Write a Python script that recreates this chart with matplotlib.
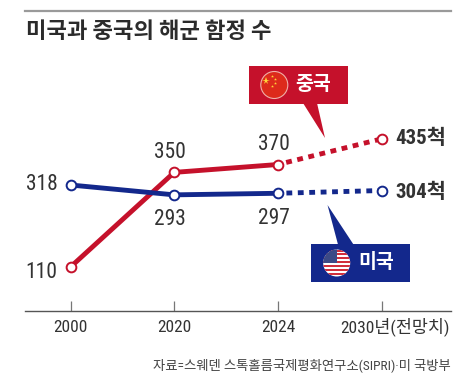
import matplotlib
matplotlib.use('Agg')
import matplotlib.pyplot as plt
from matplotlib.patches import Circle, Polygon, Rectangle
from matplotlib.transforms import ScaledTranslation

NARROW = ['Roboto Condensed', 'Noto Sans CJK KR', 'DejaVu Sans']
plt.rcParams['font.family'] = NARROW

# data
years = ['2000', '2020', '2024', '2030년(전망치)']
china = [110, 350, 370, 435]
usa = [318, 293, 297, 304]
china_labels = ['110', '350', '370', '435척']
usa_labels = ['318', '293', '297', '304척']

RED = '#c5112b'
BLUE = '#13288c'
TXT = '#333333'
W, H = 465, 391

fig = plt.figure(figsize=(W / 100, H / 100), dpi=100)

# data axes, lined up with the picture in pixels
left, right, bottom, top = 25, 451, 311, 120
ax = fig.add_axes([left / W, 1 - bottom / H, (right - left) / W, (bottom - top) / H])
ax.patch.set_alpha(0)
step = 103.7
ax.set_xlim(-(70.5 - left) / step, 3 + (right - 381.6) / step)
ppu = 82 / 208
ax.set_ylim(110 - (bottom - 267) / ppu, 110 + (267 - top) / ppu)
for s in ['top', 'left', 'right']:
    ax.spines[s].set_visible(False)
ax.spines['bottom'].set_color('#555555')
ax.spines['bottom'].set_linewidth(1.0)
ax.set_yticks([])
ax.set_xticks(range(4))
ax.set_xticklabels(years, fontsize=12.5, color=TXT)
# ticks point up into the plot
ax.tick_params(axis='x', direction='in', length=7, width=0.9, color='#777777', pad=6.5)
# last label sits off centre, towards the right edge, and its CJK box pushes it down
last = ax.get_xticklabels()[-1]
last.set_transform(last.get_transform() + ScaledTranslation(13 / 100, 3 / 100, fig.dpi_scale_trans))

lw = 3.5
for vals, col in [(china, RED), (usa, BLUE)]:
    ax.plot(range(3), vals[:3], color=col, lw=lw, solid_capstyle='butt', zorder=3)
    ax.plot([2, 3], vals[2:], color=col, lw=lw, dash_capstyle='butt',
            linestyle=(0.6, (1.2, 1.15)), zorder=3)
    ax.plot(range(4), vals, ls='none', marker='o', ms=7, mfc='white', mec=col, mew=1.4, zorder=4)


def lab(x, y, text, dx, dy, ha='center', **kw):
    ax.annotate(text, (x, y), xytext=(dx, dy), textcoords='offset pixels',
                ha=ha, va='center', color=TXT, **kw)


# value labels; offset pixels, positive is up
lab(0, usa[0], usa_labels[0], -13, 0, ha='right', fontsize=15.5)
lab(0, china[0], china_labels[0], -13, -5, ha='right', fontsize=15.5)
lab(1, china[1], china_labels[1], -4, 20, fontsize=15.5)
lab(1, usa[1], usa_labels[1], -4, -25, fontsize=15.5)
lab(2, china[2], china_labels[2], -4, 20, fontsize=15.5)
lab(2, usa[2], usa_labels[2], -4, -25, fontsize=15.5)
lab(3, china[3], china_labels[3], 14, 0, ha='left', fontsize=15, fontweight='bold')
lab(3, usa[3], usa_labels[3], 14, -2, ha='left', fontsize=15, fontweight='bold')

# overlay in pixel coordinates for title, callouts and flags
ov = fig.add_axes([0, 0, 1, 1])
ov.set_xlim(0, W)
ov.set_ylim(H, 0)
ov.axis('off')
ov.patch.set_alpha(0)

ov.plot([25, 451], [10.5, 10.5], color='#9a9a9a', lw=1.6)
ov.text(26, 32, '미국과 중국의 해군 함정 수', fontsize=16, fontweight='bold', color='#2b2b2b',
        family=['Noto Sans CJK KR'], ha='left', va='center')
ov.text(451, 365, '자료=스웨덴 스톡홀름국제평화연구소(SIPRI)·미 국방부', fontsize=9.6, color='#444444',
        family=NARROW, ha='right', va='center')

# china callout
ov.add_patch(Rectangle((248.5, 65.5), 99, 38.5, fc=RED, ec='none', zorder=5))
ov.add_patch(Polygon([(303, 103), (317, 103), (325, 138)], fc=RED, ec='none', zorder=5))
ov.add_patch(Circle((274.3, 85), 13.5, fc='#dd2a1b', ec='#f0b0a8', lw=0.8, zorder=6))
ov.plot([266], [80.5], marker='*', ms=5.5, color='#ffd83a', mew=0, zorder=7)
ov.plot([272, 274.5, 274.5, 272], [75.5, 78.5, 83, 86], ls='none', marker='*', ms=2.2,
        color='#ffd83a', mew=0, zorder=7)
ov.text(313, 84.5, '중국', fontsize=14, fontweight='bold', color='white', ha='center', va='center',
        family=['Noto Sans CJK KR'], zorder=7)

# usa callout
ov.add_patch(Rectangle((311, 243.7), 99, 38.3, fc=BLUE, ec='none', zorder=5))
ov.add_patch(Polygon([(338, 244.5), (353.5, 244.5), (327.5, 205)], fc=BLUE, ec='none', zorder=5))
flag = Circle((336.7, 263), 13.5, fc='white', ec='none', zorder=6)
ov.add_patch(flag)
for i in range(7):
    r = Rectangle((322, 249.5 + i * 3.9), 30, 2, fc='#d02f3c', ec='none', zorder=6)
    ov.add_patch(r)
    r.set_clip_path(flag)
canton = Rectangle((322, 249), 14.5, 14, fc='#3c4a86', ec='none', zorder=6)
ov.add_patch(canton)
canton.set_clip_path(flag)
ov.text(376, 262.5, '미국', fontsize=14, fontweight='bold', color='white', ha='center', va='center',
        family=['Noto Sans CJK KR'], zorder=7)

fig.savefig('out.png', dpi=100)
